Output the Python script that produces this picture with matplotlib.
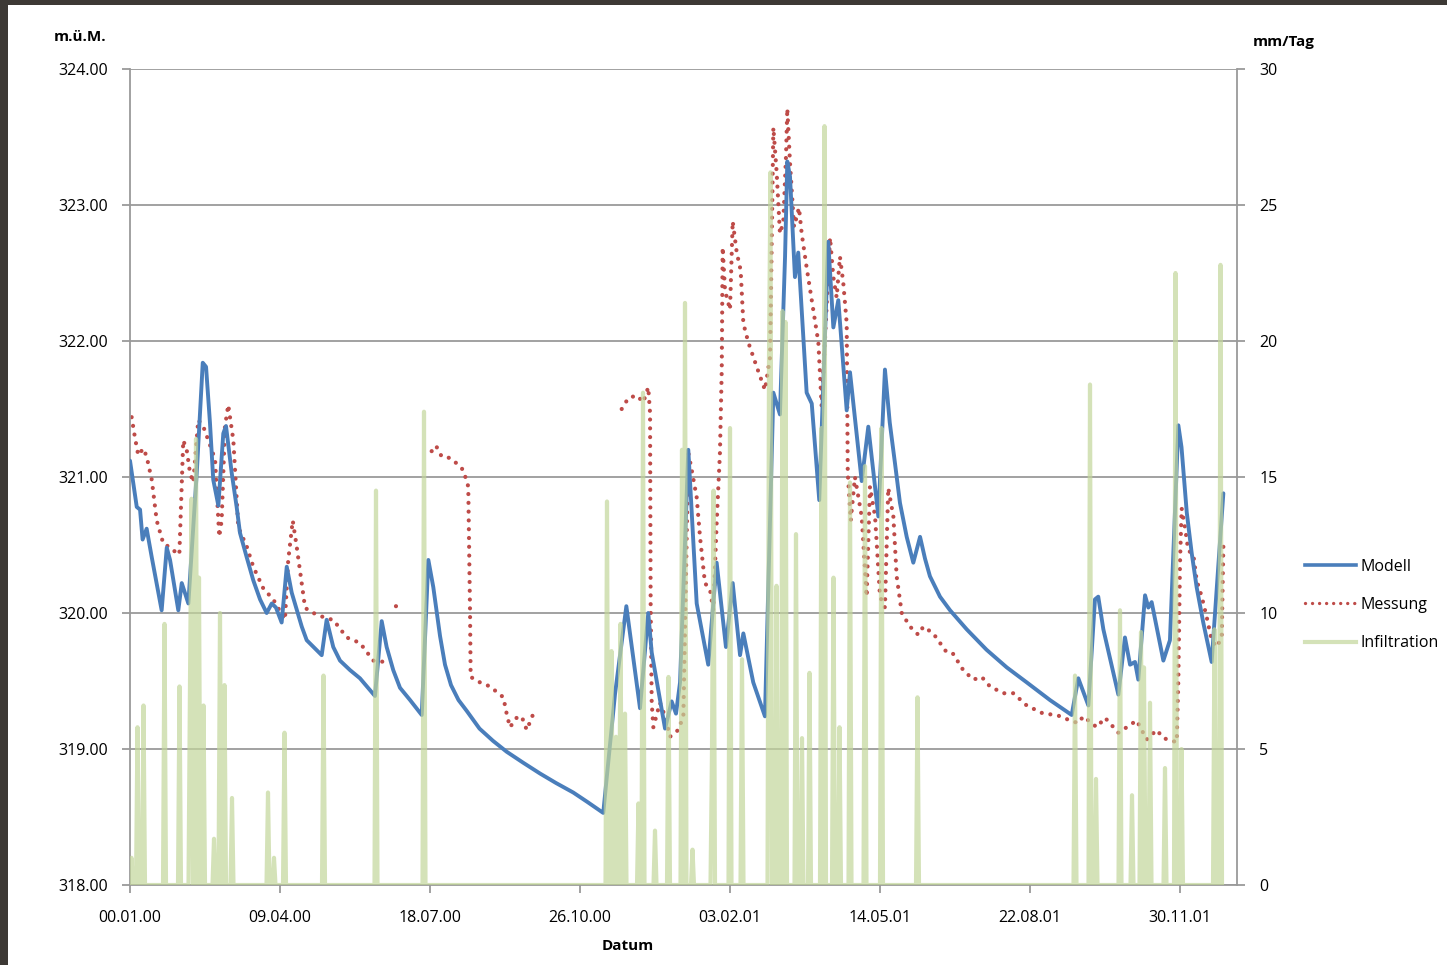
import numpy as np
import matplotlib
matplotlib.use("Agg")
import matplotlib.pyplot as plt
from matplotlib.patches import Rectangle
from matplotlib.lines import Line2D

# ---------------- data (x = day index, Excel serial) ----------------
x_tick_pos = [0, 100, 200, 300, 400, 500, 600, 700]
x_tick_labels = ["00.01.00", "09.04.00", "18.07.00", "26.10.00",
                 "03.02.01", "14.05.01", "22.08.01", "30.11.01"]
y_left_ticks = [318, 319, 320, 321, 322, 323, 324]
y_right_ticks = [0, 5, 10, 15, 20, 25, 30]

modell_day = [0, 4.5, 6.7, 8.4, 11.1, 14.5, 21.1, 24.5, 26.7, 32.2, 34.5, 38.9,
              44.5, 48.5, 50.7, 53.3, 55.5, 58.9, 62.2, 64.0, 67.8, 71.1, 73.3, 77.8,
              82.2, 86.7, 91.1, 94.5, 97.3, 101.1, 104.5, 107.8, 114.5, 117.8, 127.8,
              131.1, 135.5, 140, 146.7, 153.3, 163.3, 167.8, 171.1, 175.5, 180, 186.7,
              194.5, 198.9, 202.2, 206.7, 210, 214, 219, 224.5, 233, 242, 251.1, 262,
              273.3, 284, 295.5, 305, 315.5, 323.3, 330.9, 340, 345.5, 347.8,
              356.7, 361.1, 364, 366.7, 372.2, 377.8, 385.5, 391.1, 397.3, 401.8,
              406.7, 408.9, 415.5, 423.3, 428.9, 433.3, 436.7, 438.2, 440, 443.3,
              445.5, 451.1, 454.5, 459.5, 465.5, 468.9, 472.2, 477.8, 480, 487.8,
              492.2, 498.9, 503.3, 506.5, 510, 513.3, 517.8, 522.2, 526.7, 530, 533.3,
              540, 546.7, 557.8, 571, 584.5, 597.8, 613.3, 627.8, 632.2, 638.9, 643.3,
              645.5, 648.9, 658.9, 663.3, 666.7, 670, 672.2, 676.7, 678.9, 681.1,
              688.9, 693.3, 698.9, 701, 704.5, 707.8, 711.1, 715.5, 721.1, 728.9]
modell_val = [321.12, 320.78, 320.76, 320.54, 320.62, 320.41, 320.02, 320.48, 320.39,
              320.02, 320.22, 320.07, 321.03, 321.84, 321.81, 321.40, 320.98, 320.79,
              321.32, 321.375, 321.03, 320.78, 320.59, 320.41, 320.24, 320.10, 320.0,
              320.07, 320.04, 319.93, 320.34, 320.15, 319.9, 319.8, 319.69, 319.95,
              319.75, 319.65, 319.58, 319.52, 319.39, 319.94, 319.75, 319.58, 319.45,
              319.36, 319.25, 320.39, 320.19, 319.83, 319.62, 319.47, 319.36, 319.28,
              319.15, 319.06, 318.98, 318.90, 318.82, 318.75, 318.68, 318.61, 318.53,
              319.4, 320.05, 319.30, 320.0, 319.71, 319.15, 319.35, 319.26, 319.49,
              321.2, 320.07, 319.62, 320.37, 319.75, 320.22, 319.69, 319.85, 319.49,
              319.24, 321.62, 321.46, 322.62, 323.32, 323.21, 322.47, 322.65, 321.62,
              321.54, 320.83, 322.73, 322.10, 322.30, 321.49, 321.77, 320.97, 321.37,
              320.71, 321.79, 321.40, 321.1, 320.81, 320.56, 320.37, 320.56, 320.40,
              320.27, 320.12, 320.02, 319.88, 319.73, 319.60, 319.49, 319.36, 319.25,
              319.52, 319.32, 320.1, 320.12, 319.88, 319.4, 319.82, 319.62, 319.64,
              319.51, 320.13, 320.04, 320.08, 319.65, 319.8, 321.38, 321.22, 320.74,
              320.44, 320.19, 319.93, 319.64, 320.88]

nan = float("nan")
messung_day = [1.1, 3.3, 5.5, 8.9, 11.1, 14.5, 17.8, 22.2, 25.5, 28.9, 32.9, 35.5,
               37.8, 40, 42.2, 45.5, 48.9, 52.2, 56.7, 59.5, 61.1, 63.3, 65.5, 68.9,
               72.2, 77.8, 82.2, 88.9, 95.5, 103.3, 105.5, 108.5, 111.1, 116.7, 120,
               131.1, 135.5, 144.5, 153.3, 162.2, 170, 174,
               177.3, 181.8, 190,
               201.1, 204, 207.8, 213.3, 218.9, 222.2, 225.5, 226.7, 227.1, 233.3, 240,
               248.9, 251.1, 253.3, 257.8, 261.1, 264.5, 268.9, 290,
               327.8, 332.2, 337.8, 342.2, 345.5, 346.7, 347.1, 347.8, 348.9, 353.3,
               356.7, 360, 365.5, 368.9, 370.7, 372.2, 374.5, 377.8, 380, 383.3, 386.7,
               388.9, 391.1, 393.3, 394.5, 395.1, 396.7, 400, 401.8, 404.5, 407.1,
               408.9, 412.2, 417.8, 423.3, 426.7, 428.9, 431.1, 433.3, 435.5, 437.3,
               438.2, 440, 442.7, 446, 447.8, 451.1, 455.5, 458.9, 461.1, 466.7, 468.9,
               471.1, 473.3, 475.5, 477.8, 478.5, 480.5, 483.3, 487.8, 491.1, 493.3,
               496.7, 500, 503.3, 505.5, 508.9, 511.1, 514.5, 520, 525.5, 528.9, 535.5,
               544.5, 548.7, 555.5, 562.2, 567.8, 573.3, 582.2, 588.9, 597.8, 608.9,
               617.8, 626.7, 632.2, 635.5, 644.5, 650, 658.9, 664.5, 671.1, 677.8,
               684.5, 688.9, 697.8, 698.9, 700, 701.1, 703.3, 705.5, 708.9, 711.1,
               714.5, 717.8, 721.1, 724.5, 727.8, 728.9]
messung_val = [321.44, 321.29, 321.16, 321.21, 321.15, 320.98, 320.68, 320.51, 320.49,
               320.46, 320.43, 321.27, 321.2, 321.03, 320.96, 321.42, 321.37, 321.27,
               321.13, 320.56, 320.68, 321.37, 321.53, 321.27, 320.63, 320.49, 320.34,
               320.18, 320.1, 319.95, 320.39, 320.68, 320.49, 320.04, 320.01, 319.96,
               319.95, 319.82, 319.78, 319.65, 319.64, nan,
               320.05, 320.05, nan,
               321.19, 321.23, 321.15, 321.14, 321.09, 321.05, 320.93, 320.0, 319.53,
               319.49, 319.46, 319.38, 319.26, 319.16, 319.23, 319.24, 319.14, 319.26, nan,
               321.5, 321.58, 321.60, 321.55, 321.66, 321.47, 320.07, 319.34, 319.16,
               319.34, 319.24, 319.09, 319.14, 319.24, 320.32, 321.18, 321.05, 320.85,
               320.56, 320.22, 320.17, 320.02, 320.66, 321.18, 321.79, 322.69, 322.37,
               322.23, 322.88, 322.65, 322.52, 322.13, 321.99, 321.81, 321.64, 321.88,
               323.57, 323.24, 322.79, 322.87, 323.35, 323.71, 323.31, 322.84, 322.98,
               322.79, 322.54, 322.23, 321.99, 321.52, 322.76, 322.47, 322.32, 322.62,
               322.43, 322.13, 321.03, 320.68, 321.0, 320.71, 320.12, 320.93, 320.71,
               320.12, 320.04, 320.92, 320.71, 320.27, 320.0, 319.9, 319.84, 319.9,
               319.85, 319.71, 319.70, 319.58, 319.51, 319.53, 319.46, 319.41, 319.41,
               319.32, 319.26, 319.25, 319.21, 319.19, 319.24, 319.16, 319.23, 319.12,
               319.16, 319.21, 319.07, 319.14, 319.08, 319.05, 319.51, 320.37, 320.77,
               320.63, 320.46, 320.43, 320.24, 320.12, 319.97, 319.8, 319.75, 319.82,
               320.49]

infil_day = [1, 5, 9, 23, 33, 40, 41, 44, 46, 49, 56, 60, 63, 68, 92, 96, 103, 129,
             164, 196, 318, 321, 324, 327, 330, 339, 342, 350, 359, 368, 370, 375,
             388, 389, 400, 408, 426, 427, 431, 435, 437, 444, 448, 453, 461, 463,
             469, 473, 480, 490, 501, 525, 630, 640, 644, 660, 668, 674, 676, 680,
             690, 697, 701, 723, 727]
infil_val = [1.0, 5.8, 6.6, 9.6, 7.3, 7.5, 14.2, 16.4, 11.3, 6.6, 1.7, 10.0, 7.35,
             3.2, 3.4, 1.0, 5.6, 7.7, 14.5, 17.4, 14.1, 8.6, 5.45, 9.6, 6.3, 3.0,
             18.1, 2.0, 7.65, 16.0, 21.4, 1.3, 5.0, 14.5, 16.8, 8.3, 19.4, 26.2,
             11.0, 21.1, 20.7, 12.9, 5.4, 7.8, 16.8, 27.9, 11.3, 5.8, 14.8, 15.4,
             16.8, 6.9, 7.7, 18.4, 3.9, 10.1, 3.3, 9.3, 8.0, 6.7, 4.3, 22.5, 5.0,
             9.4, 22.8]
last_day = 728

# daily infiltration series: zero except on the read spike days
days_all = np.arange(0, last_day + 1)
infil_all = np.zeros(days_all.shape)
for d, v in zip(infil_day, infil_val):
    infil_all[d] = v

# ---------------- figure ----------------
plt.rcParams['font.family'] = ['Open Sans', 'DejaVu Sans']
W, H = 1447, 965
fig = plt.figure(figsize=(W / 100, H / 100), dpi=100)
fig.patch.set_facecolor("white")

# dark window frame (top and left)
fig.patches.append(Rectangle((0, 1 - 5 / H), 1, 5 / H, transform=fig.transFigure,
                             facecolor="#3d3935", edgecolor="none", zorder=10))
fig.patches.append(Rectangle((0, 0), 8 / W, 1, transform=fig.transFigure,
                             facecolor="#3d3935", edgecolor="none", zorder=10))

left, right, top, bottom = 130, 1237, 69, 885
ax = fig.add_axes([left / W, 1 - bottom / H, (right - left) / W, (bottom - top) / H])
ax2 = ax.twinx()

grid_c = "#9a9a9a"
blue = "#4a7ebb"
red = "#be4b48"
green = "#c3d69b"
dots = (0, (0.01, 2.1))

ax.set_xlim(0, (right - left) / 1.5)
ax.set_ylim(318, 324)
ax2.set_ylim(0, 30)

ax.set_yticks(y_left_ticks)
ax.set_yticklabels([f"{v:.2f}" for v in y_left_ticks])
ax2.set_yticks(y_right_ticks)
ax2.set_yticklabels([str(v) for v in y_right_ticks])
ax.set_xticks(x_tick_pos)
ax.set_xticklabels(x_tick_labels)

ax.grid(axis="y", color=grid_c, linewidth=1.3)
ax.set_axisbelow(True)

for a in (ax, ax2):
    a.spines["top"].set_visible(False)
    for s in ("left", "bottom", "right"):
        a.spines[s].set_color(grid_c)
        a.spines[s].set_linewidth(1.3)
ax.spines["right"].set_visible(False)
ax2.spines["left"].set_visible(False)
ax2.spines["bottom"].set_visible(False)

ax.tick_params(axis="both", colors=grid_c, labelcolor="black", labelsize=11.5,
               length=6, width=1.3, direction="out")
ax.tick_params(axis="y", pad=10)
ax.tick_params(axis="x", pad=12)
ax2.tick_params(axis="y", colors=grid_c, labelcolor="black", labelsize=11.5,
                length=6, width=1.3, direction="out", pad=10)

# series
ax.plot(modell_day, modell_val, color=blue, linewidth=2.8, solid_joinstyle="round",
        solid_capstyle="round", zorder=3)
ax.plot(messung_day, messung_val, color=red, linewidth=3.0,
        linestyle=dots, dash_capstyle="round", zorder=2)
ax2.plot(days_all, infil_all, color=green, linewidth=3.0, alpha=0.7,
         solid_joinstyle="round", zorder=4)

# axis titles
fig.text(80 / W, 1 - 37 / H, "m.ü.M.", ha="center", va="center",
         fontsize=11, fontweight="bold")
fig.text(1284 / W, 1 - 42 / H, "mm/Tag", ha="center", va="center",
         fontsize=11, fontweight="bold")
fig.text(628 / W, 1 - 946 / H, "Datum", ha="center", va="center",
         fontsize=11, fontweight="bold")

# legend
handles = [Line2D([], [], color=blue, linewidth=2.6),
           Line2D([], [], color=red, linewidth=2.4, linestyle=dots,
                  dash_capstyle="round"),
           Line2D([], [], color=green, linewidth=3.0, alpha=0.7)]
fig.legend(handles, ["Modell", "Messung", "Infiltration"], loc="center left",
           bbox_to_anchor=(1305 / W, 1 - 605 / H), frameon=False, fontsize=11.5,
           handlelength=3.2, handletextpad=0.3, labelspacing=1.4, borderpad=0,
           borderaxespad=0)

fig.savefig("out.png", dpi=100, facecolor="white")
